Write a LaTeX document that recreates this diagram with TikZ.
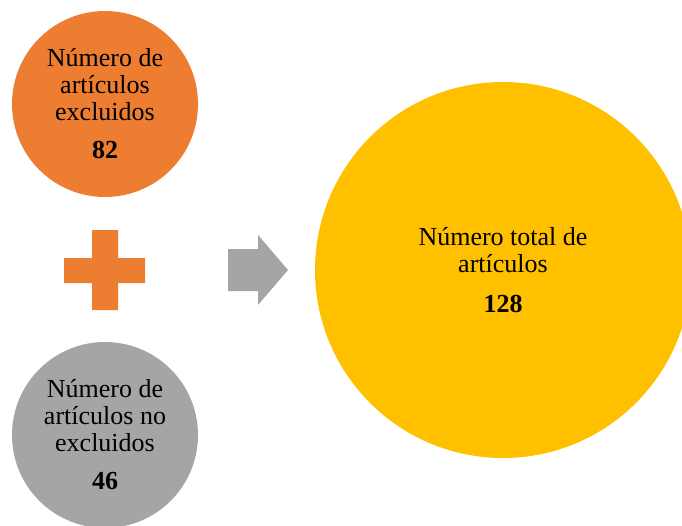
\documentclass[tikz,border=0pt]{standalone}
\usepackage{fontspec}
\setmainfont{Liberation Serif}
\definecolor{cOrange}{HTML}{ED7D31}
\definecolor{cGray}{HTML}{A5A5A5}
\definecolor{cYellow}{HTML}{FFC000}
\begin{document}
\begin{tikzpicture}[x=1pt,y=-1pt,
  bubble/.style={circle, inner sep=0pt, align=center, text=black,
    font=\fontsize{26}{27}\selectfont},
  small/.style={bubble, minimum size=186pt},
  big/.style={bubble, minimum size=376pt}]
\useasboundingbox (0,0) rectangle (682,525);
\clip (0,0) rectangle (682,525);
\node[small, fill=cOrange] (excl) at (105,104) {Número de\\artículos\\excluidos\\[11pt]\textbf{82}};
\node[small, fill=cGray] (noexcl) at (105,435) {Número de\\artículos no\\excluidos\\[11pt]\textbf{46}};
\node[big, fill=cYellow] (total) at (503,270) {Número total de\\artículos\\[13pt]\textbf{128}};
% plus sign
\fill[cOrange] (92,230) -- (118,230) -- (118,258) -- (145,258) -- (145,283) -- (118,283)
  -- (118,310) -- (92,310) -- (92,283) -- (64,283) -- (64,258) -- (92,258) -- cycle;
% arrow
\fill[cGray] (228,249) -- (258,249) -- (258,235) -- (288,270) -- (258,305) -- (258,291) -- (228,291) -- cycle;
\end{tikzpicture}
\end{document}
